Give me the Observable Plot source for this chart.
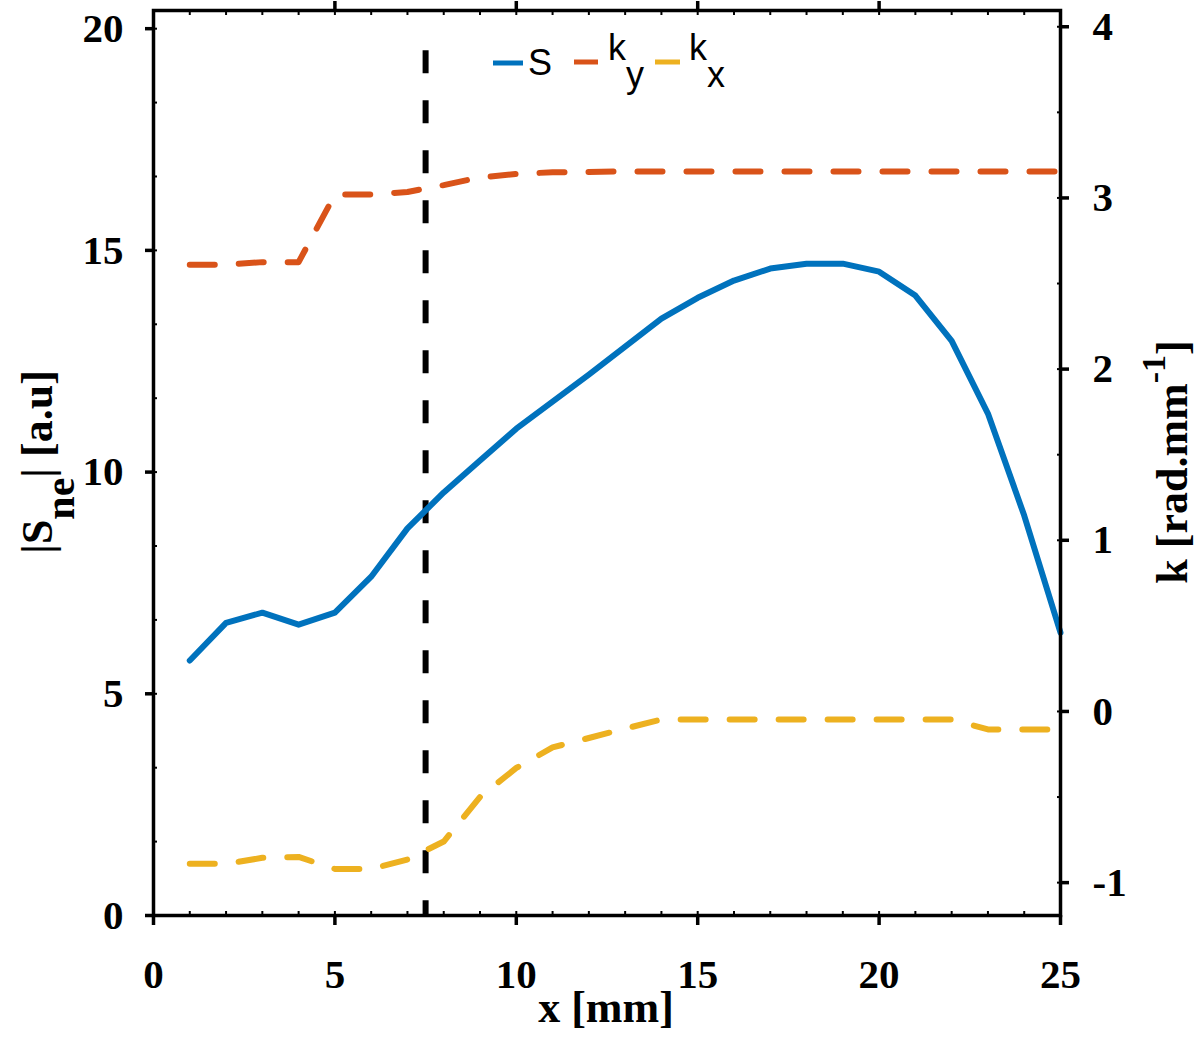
<!DOCTYPE html>
<html>
<head>
<meta charset="utf-8">
<script src="https://cdn.jsdelivr.net/npm/d3@7"></script>
<script src="https://cdn.jsdelivr.net/npm/@observablehq/plot@0.6"></script>
<style>
  body { margin: 0; background: #fff; }
  #chart svg { display: block; }
</style>
</head>
<body>
<div id="chart"></div>
<script>
// ---- data ----
const xPositions = [1,2,3,4,5,6,7,8,9,10,11,12,13,14,15,16,17,18,19,20,21,22,23,24,25];
const sValues  = [5.75,6.6,6.83,6.56,6.83,7.64,8.73,9.54,10.26,10.98,11.59,12.2,12.83,13.46,13.93,14.32,14.59,14.7,14.7,14.52,13.98,12.96,11.32,9.02,6.38];
const kyValues = [2.61,2.61,2.625,2.625,3.02,3.02,3.035,3.075,3.12,3.14,3.15,3.152,3.155,3.155,3.155,3.155,3.155,3.155,3.155,3.155,3.155,3.155,3.155,3.155,3.155];
const kxValues = [-0.89,-0.89,-0.855,-0.85,-0.92,-0.92,-0.865,-0.76,-0.5,-0.33,-0.21,-0.155,-0.1,-0.047,-0.047,-0.047,-0.047,-0.047,-0.047,-0.047,-0.047,-0.047,-0.105,-0.105,-0.105];
const boundaryX = [7.5];
const boundaryTop = 19.5;
const xTicks = [0,5,10,15,20,25];
const xTopTicks = [5,10,15,20];
const yLeftTicks = [0,5,10,15,20];
const yRightTicks = [-1,0,1,2,3,4];
const xDomain = [0, 25];
const leftDomain = [0, 20.41];
const rightDomain = [-1.192, 4.095];
const seriesColors = {S: "#0072BD", ky: "#D95319", kx: "#EDB120"};

// right-axis values mapped onto the left-axis scale
const kToLeft = d3.scaleLinear(rightDomain, leftDomain);

const sData  = xPositions.map((x, i) => ({x, v: sValues[i]}));
const kyData = xPositions.map((x, i) => ({x, k: kyValues[i]}));
const kxData = xPositions.map((x, i) => ({x, k: kxValues[i]}));

const serif = "'Liberation Serif', 'Times New Roman', serif";
const sans = "'Liberation Sans', Arial, sans-serif";

const chart = Plot.plot({
  width: 1204,
  height: 1042,
  marginLeft: 153,
  marginRight: 144,
  marginTop: 10,
  marginBottom: 127,
  x: {domain: xDomain},
  y: {domain: leftDomain},
  style: {fontFamily: serif, color: "black", background: "white", overflow: "visible"},
  marks: [
    // minor ticks (inward)
    Plot.axisX({ticks: d3.range(0, 26, 1), tickSize: -4, tickFormat: () => "", strokeWidth: 2, label: null}),
    Plot.axisX({anchor: "top", ticks: d3.range(0, 26, 1), tickSize: -4, tickFormat: () => "", strokeWidth: 2, label: null}),
    Plot.axisY({ticks: d3.range(0, 20.5, 5/3), tickSize: -4, tickFormat: () => "", strokeWidth: 2, label: null}),
    Plot.axisY({anchor: "right", ticks: d3.range(-1, 4.01, 0.5).map(kToLeft), tickSize: -4, tickFormat: () => "", strokeWidth: 2, label: null}),
    // major axes
    Plot.axisX({ticks: xTicks, tickSize: 10, tickPadding: 33, strokeWidth: 3.5, tickFormat: d => String(d),
      fontSize: 41, fontWeight: "bold", fontFamily: serif, label: null}),
    Plot.axisX({anchor: "top", ticks: xTopTicks, tickSize: 10, strokeWidth: 3.5, tickFormat: () => "", label: null}),
    Plot.axisY({ticks: yLeftTicks, tickSize: 8, tickPadding: 22, strokeWidth: 3.5, tickFormat: d => String(d),
      fontSize: 41, fontWeight: "bold", fontFamily: serif, label: null}),
    Plot.axisY({anchor: "right", ticks: yRightTicks.map(kToLeft), tickSize: 8, tickPadding: 24, strokeWidth: 3.5,
      tickFormat: v => String(Math.round(kToLeft.invert(v))),
      fontSize: 41, fontWeight: "bold", fontFamily: serif, label: null}),
    // boundary
    Plot.ruleX(boundaryX, {y1: boundaryTop, y2: 0, stroke: "black", strokeWidth: 6, strokeDasharray: "23,27"}),
    // series
    Plot.line(kyData, {x: "x", y: d => kToLeft(d.k), stroke: seriesColors.ky, strokeWidth: 6, strokeDasharray: "25,24"}),
    Plot.line(kxData, {x: "x", y: d => kToLeft(d.k), stroke: seriesColors.kx, strokeWidth: 6, strokeDasharray: "25,24"}),
    Plot.line(sData, {x: "x", y: "v", stroke: seriesColors.S, strokeWidth: 6}),
    Plot.frame({stroke: "black", strokeWidth: 3.5})
  ]
});

document.getElementById("chart").appendChild(chart);

const svg = d3.select(chart);

// axis titles
svg.append("text")
  .attr("x", 606).attr("y", 1022)
  .attr("text-anchor", "middle")
  .attr("font-family", serif).attr("font-weight", "bold").attr("font-size", 44)
  .attr("fill", "black")
  .text("x [mm]");

const yl = svg.append("text")
  .attr("transform", "translate(52,462) rotate(-90)")
  .attr("text-anchor", "middle")
  .attr("font-family", serif).attr("font-weight", "bold").attr("font-size", 44)
  .attr("fill", "black");
yl.append("tspan").text("|S");
yl.append("tspan").attr("dy", 22).attr("font-size", 42).text("ne");
yl.append("tspan").attr("dy", -22).text("| [a.u]");

const yr = svg.append("text")
  .attr("transform", "translate(1187,462) rotate(-90)")
  .attr("text-anchor", "middle")
  .attr("font-family", serif).attr("font-weight", "bold").attr("font-size", 44)
  .attr("fill", "black");
yr.append("tspan").text("k [rad.mm");
yr.append("tspan").attr("dy", -22).attr("font-size", 34).text("-1");
yr.append("tspan").attr("dy", 22).text("]");

// legend
const legendItems = [
  {key: "S",  x1: 493, x2: 523, ly: 63, main: "S", sub: null, tx: 528, ty: 75},
  {key: "ky", x1: 574, x2: 598, ly: 62, main: "k", sub: "y", tx: 608, ty: 60},
  {key: "kx", x1: 655, x2: 680, ly: 62, main: "k", sub: "x", tx: 689, ty: 60}
];
const lg = svg.append("g");
legendItems.forEach(it => {
  lg.append("line").attr("x1", it.x1).attr("x2", it.x2).attr("y1", it.ly).attr("y2", it.ly)
    .attr("stroke", seriesColors[it.key]).attr("stroke-width", 5);
  const t = lg.append("text").attr("x", it.tx).attr("y", it.ty)
    .attr("text-anchor", "start")
    .attr("font-family", sans).attr("font-size", 36).attr("fill", "black");
  t.append("tspan").text(it.main);
  if (it.sub) t.append("tspan").attr("dy", 27).text(it.sub);
});
</script>
</body>
</html>
